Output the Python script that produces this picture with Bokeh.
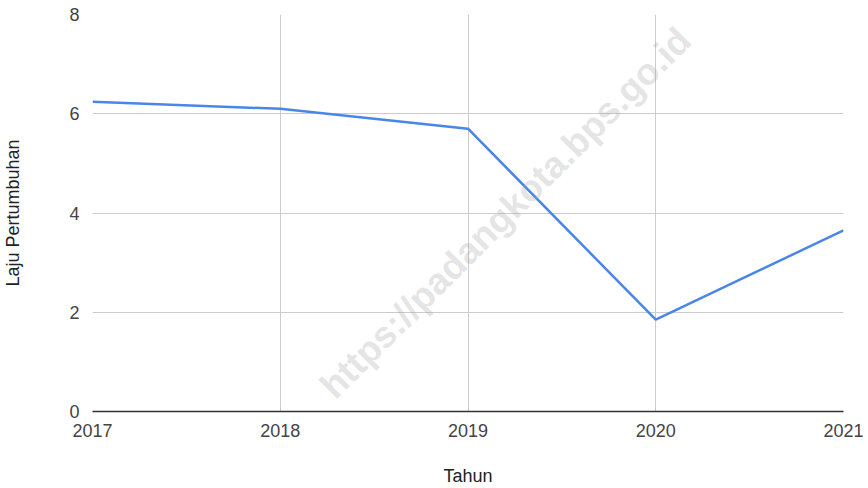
from bokeh.plotting import figure
from bokeh.models import Range1d, FixedTicker, Label
from bokeh.embed import file_html
from bokeh.resources import INLINE

years = [2017, 2018, 2019, 2020, 2021]
growth = [6.24, 6.10, 5.70, 1.85, 3.65]
y_ticks = [0, 2, 4, 6, 8]
x_label = "Tahun"
y_label = "Laju Pertumbuhan"
watermark = "https://padangkota.bps.go.id"

FONT = "Liberation Sans"

p = figure(width=868, height=488,
           output_backend="svg", toolbar_location=None,
           x_range=Range1d(2017, 2021), y_range=Range1d(0, 8),
           min_border_left=92, min_border_right=25,
           min_border_top=14, min_border_bottom=77)
p.outline_line_color = None
p.background_fill_color = "white"
p.border_fill_color = "white"

p.line(years, growth, line_color="#4a86e8", line_width=2.5)

wm = Label(x=2019.2, y=4.0, text=watermark, angle=45, angle_units="deg",
           text_align="center", text_baseline="middle",
           text_font=FONT, text_font_style="bold", text_font_size="37px",
           text_color="#a4a4a4", text_alpha=0.3)
p.add_layout(wm)

p.xaxis.ticker = FixedTicker(ticks=years)
p.yaxis.ticker = FixedTicker(ticks=y_ticks)
for ax in (p.xaxis, p.yaxis):
    ax.major_tick_line_color = None
    ax.minor_tick_line_color = None
    ax.major_label_text_font = FONT
    ax.major_label_text_font_size = "18px"
    ax.major_label_text_color = "#444444"
    ax.axis_label_text_font = FONT
    ax.axis_label_text_font_size = "18px"
    ax.axis_label_text_font_style = "normal"
    ax.axis_label_text_color = "#222222"

p.xaxis.axis_label = x_label
p.yaxis.axis_label = y_label
p.xaxis.axis_line_color = "#333333"
p.xaxis.axis_line_width = 1.5
p.yaxis.axis_line_color = None
p.xaxis.major_label_standoff = 6
p.yaxis.major_label_standoff = 7
p.xaxis.axis_label_standoff = 26
p.yaxis.axis_label_standoff = 43

p.xgrid.grid_line_color = "#cccccc"
p.ygrid.grid_line_color = "#cccccc"
p.xgrid.grid_line_width = 1
p.ygrid.grid_line_width = 1

open("out.html", "w").write(file_html(p, INLINE))
